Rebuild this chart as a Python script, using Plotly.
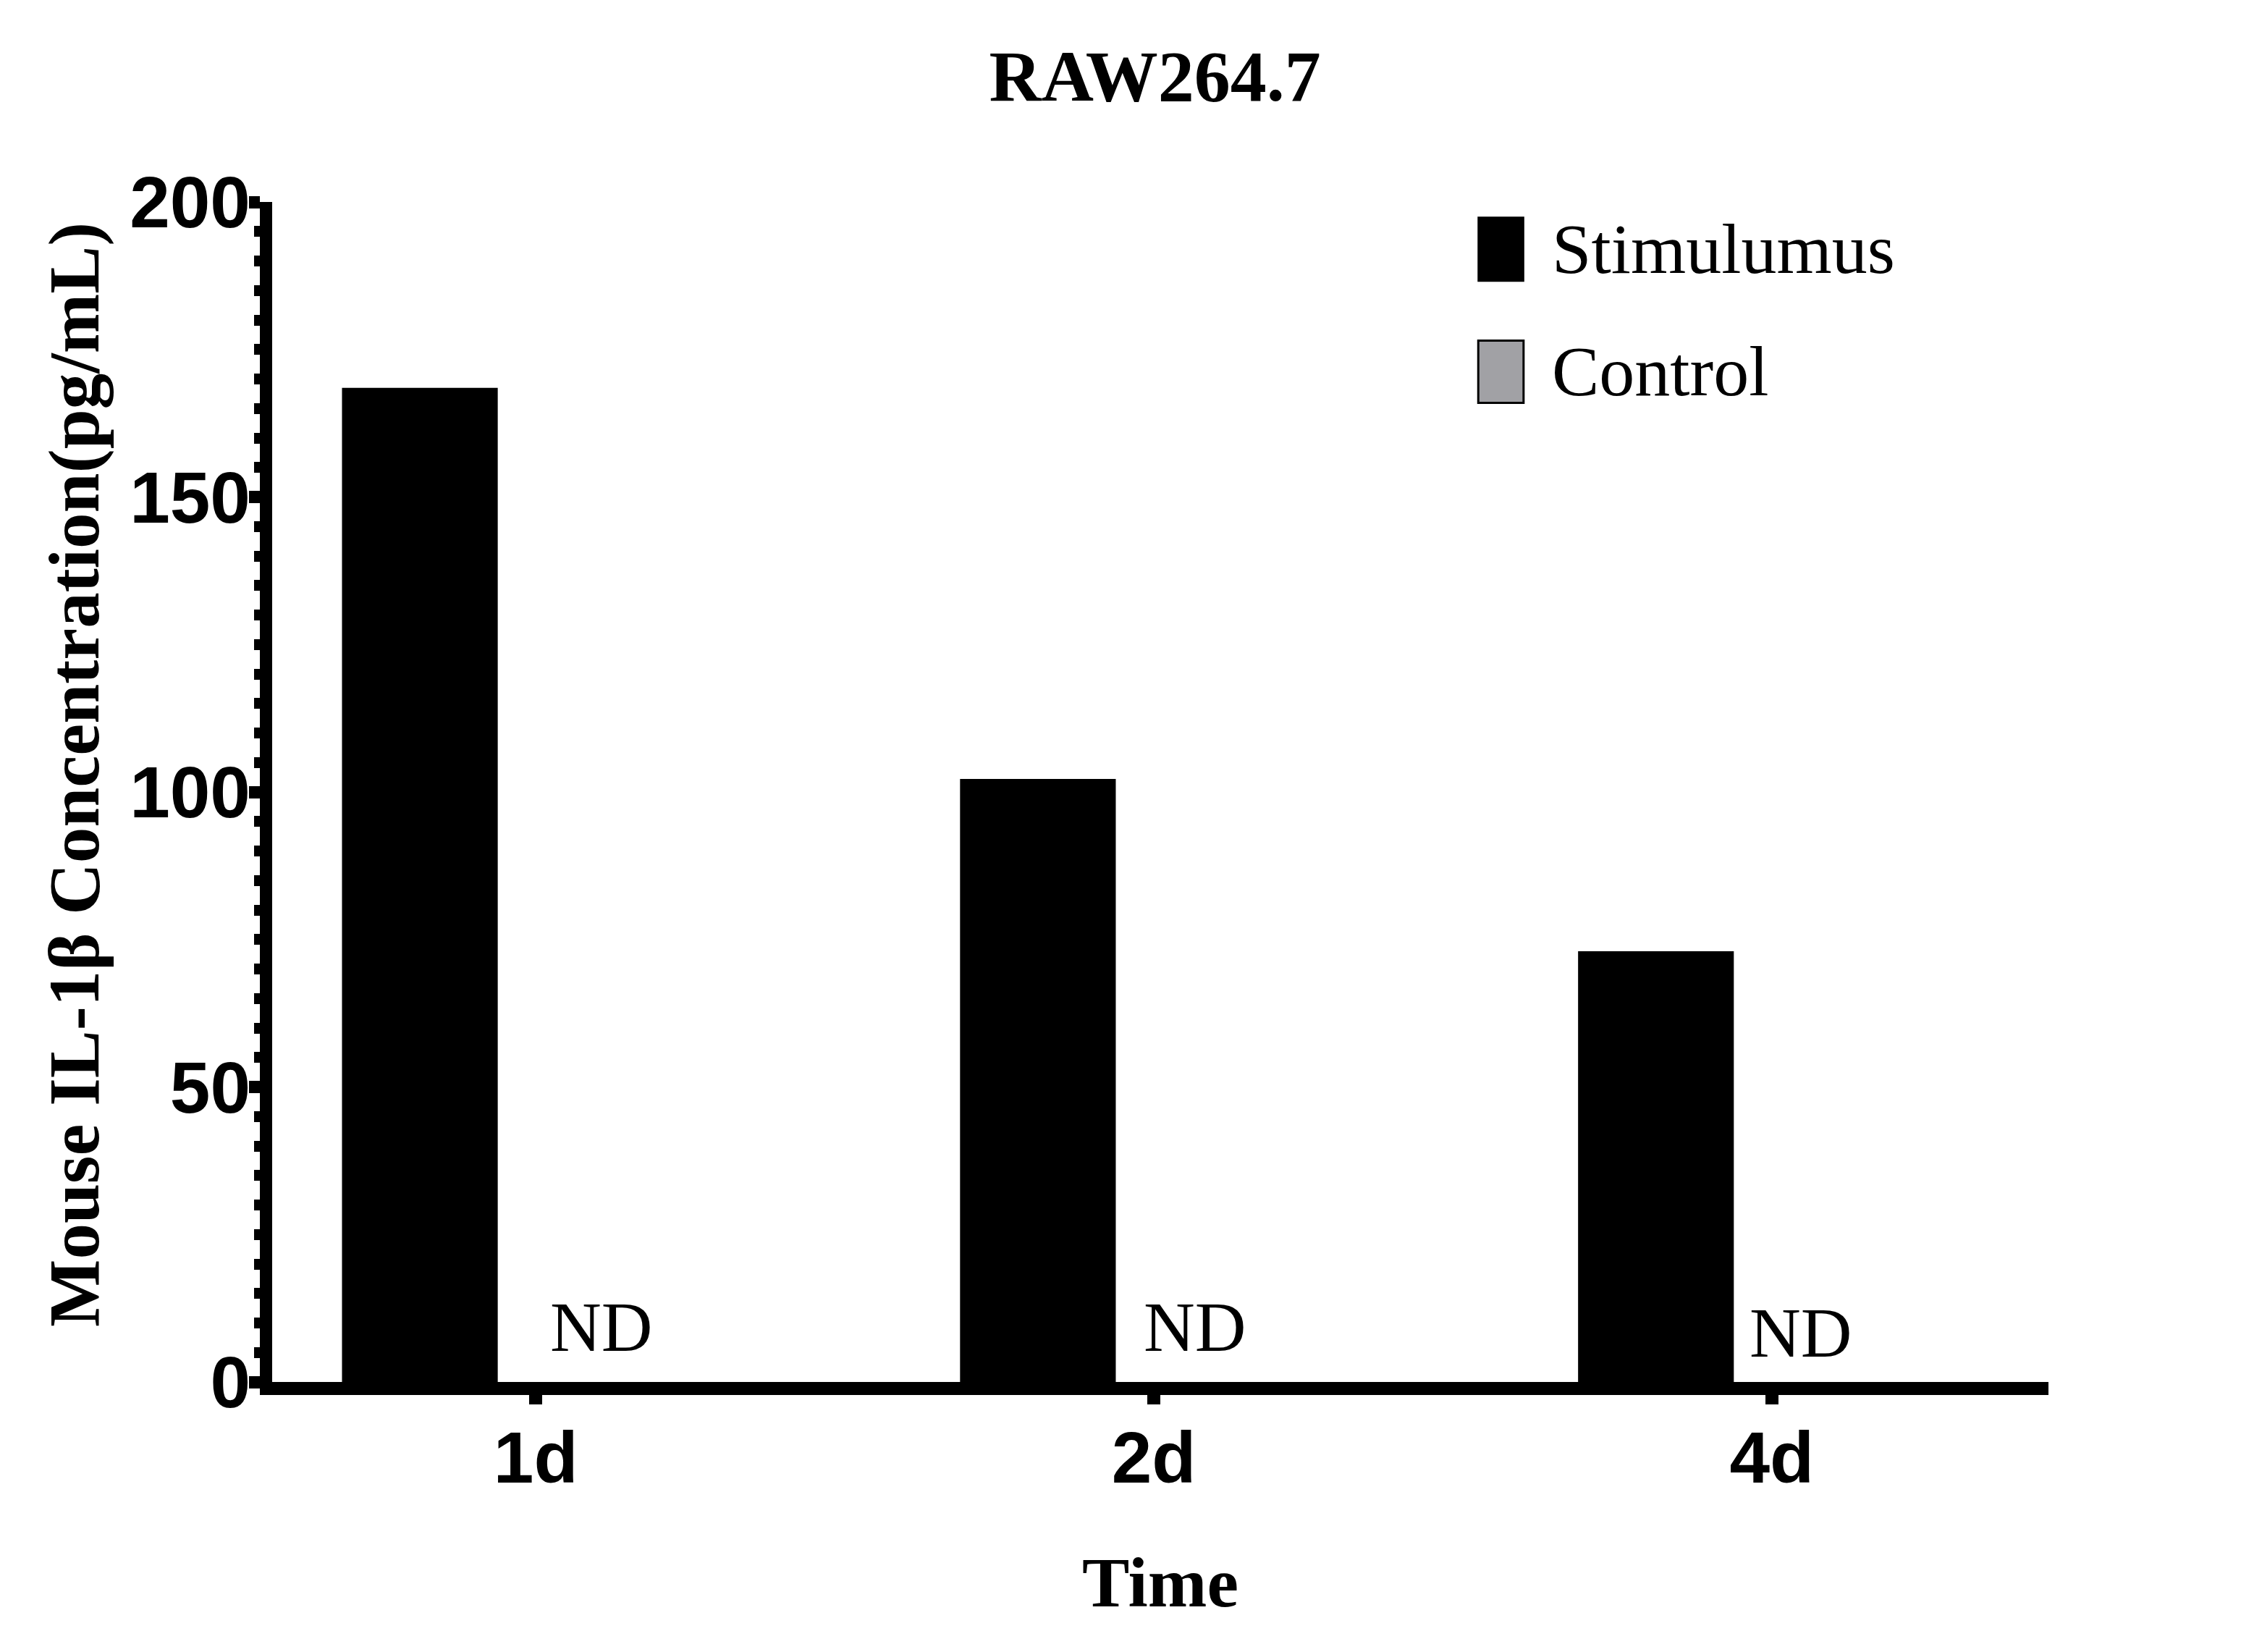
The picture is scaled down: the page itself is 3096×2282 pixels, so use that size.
import plotly.graph_objects as go

# data
time_points = ['1d', '2d', '4d']
series_names = ['Stimulumus', 'Control']
stim_values = [168.5, 102.2, 73.0]
control_values = [0, 0, 0]
control_labels = ['ND', 'ND', 'ND']
y_ticks = [0, 50, 100, 150, 200]

serif = 'Liberation Serif'
sans = 'Liberation Sans'
stim_color = '#000000'
ctrl_color = '#a1a1a5'

fig = go.Figure()
fig.add_trace(go.Bar(x=time_points, y=stim_values, name=series_names[0],
                     marker=dict(color=stim_color, line_width=0)))
fig.add_trace(go.Bar(x=time_points, y=control_values, name=series_names[1],
                     marker=dict(color=ctrl_color, line_width=0)))

# ND labels above the empty control bars
nd_shift = [91, 57, 40]
nd_yshift = [20, 20, 12]
for i, t in enumerate(time_points):
    fig.add_annotation(x=t, y=0, text=control_labels[i], showarrow=False,
                       xanchor='center', yanchor='bottom', xshift=nd_shift[i], yshift=nd_yshift[i],
                       font=dict(family=serif, size=98, color='black'))

# hand-made legend (big square swatches like the original)
fig.add_shape(type='rect', xref='paper', yref='paper', x0=0.679, x1=0.7045, y0=0.933, y1=0.987,
              fillcolor=stim_color, line=dict(color='black', width=2))
fig.add_shape(type='rect', xref='paper', yref='paper', x0=0.679, x1=0.7045, y0=0.8297, y1=0.8825,
              fillcolor=ctrl_color, line=dict(color='black', width=3))
fig.add_annotation(xref='paper', yref='paper', x=0.7196, y=0.960, text=series_names[0], showarrow=False,
                   xanchor='left', yanchor='middle', font=dict(family=serif, size=98, color='black'))
fig.add_annotation(xref='paper', yref='paper', x=0.7196, y=0.8567, text=series_names[1], showarrow=False,
                   xanchor='left', yanchor='middle', font=dict(family=serif, size=98, color='black'))

# y axis title (as annotation so it can sit slightly above centre)
fig.add_annotation(xref='paper', yref='paper', x=-0.1115, y=0.515, text='Mouse IL-1β Concentration(pg/mL)',
                   showarrow=False, textangle=-90, xanchor='center', yanchor='middle',
                   font=dict(family=serif, size=99, color='black', weight='bold'))

fig.update_layout(width=3096, height=2282, plot_bgcolor='white', paper_bgcolor='white',
                  barmode='group', bargap=0.25, bargroupgap=0.328, showlegend=False,
                  margin=dict(l=368, r=274, t=271, b=381, autoexpand=False),
                  title=dict(text='RAW264.7', x=0.497, xref='paper', xanchor='center',
                             y=0.958, yref='container', yanchor='middle',
                             font=dict(family=serif, size=100, color='black', weight='bold')))

fig.update_xaxes(type='category', range=[-0.4265, 2.4476], showline=True, linewidth=18, linecolor='black',
                 ticks='outside', ticklen=13, tickwidth=18, tickcolor='black', showgrid=False, zeroline=False,
                 ticklabelstandoff=-12,
                 tickfont=dict(family=sans, size=100, color='black', weight='bold'),
                 title=dict(text='Time', standoff=90,
                            font=dict(family=serif, size=98, color='black', weight='bold')))
fig.update_yaxes(range=[0, 200], tickvals=y_ticks, showline=True, linewidth=17, linecolor='black',
                 ticks='outside', ticklen=15, tickwidth=17, tickcolor='black', showgrid=False, zeroline=False,
                 ticklabelstandoff=-22,
                 minor=dict(dtick=5, tick0=0, ticks='outside', ticklen=8, tickwidth=15, tickcolor='black',
                            showgrid=False),
                 tickfont=dict(family=sans, size=100, color='black', weight='bold'))

fig.write_html('out.html')
